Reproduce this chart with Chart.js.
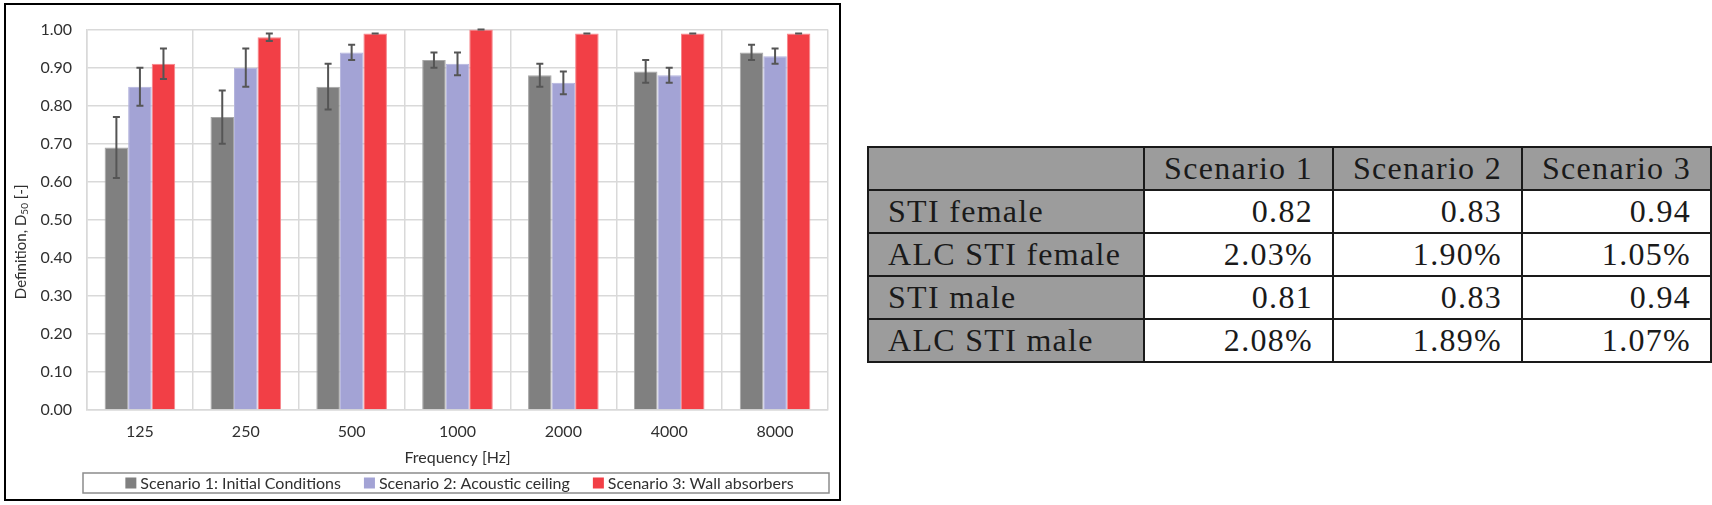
<!DOCTYPE html>
<html>
<head>
<meta charset="utf-8">
<script src="https://cdn.jsdelivr.net/npm/chart.js@4.4.1/dist/chart.umd.min.js"></script>
<style>
  body { margin: 0; background: #fff; width: 1712px; height: 505px; overflow: hidden; }
  #chartBox { position: absolute; left: 4px; top: 3px; width: 833px; height: 494px; border: 2px solid #000; }
  #stiTable { position: absolute; left: 867px; top: 146px; border-collapse: collapse;
    font-family: "Liberation Serif", serif; font-size: 32px; color: #1a1a1a; letter-spacing: 1.3px; }
  #stiTable td, #stiTable th { border: 2px solid #1a1a1a; height: 41px; padding: 0 19px; font-weight: normal; white-space: nowrap; }
  #stiTable th { background: #9c9c9c; text-align: center; }
  #stiTable td { text-align: right; background: #fff; }
  #stiTable td.rowHead { background: #9c9c9c; text-align: left; }
</style>
</head>
<body>
<div id="chartBox"><canvas id="defChart"></canvas></div>
<table id="stiTable"></table>

<script>
// frequency bands
const freqs = ['125', '250', '500', '1000', '2000', '4000', '8000'];

const seriesNames = ['Scenario 1: Initial Conditions', 'Scenario 2: Acoustic ceiling', 'Scenario 3: Wall absorbers'];

// D50 values per scenario
const scenario1 = [0.69, 0.77, 0.85, 0.92, 0.88, 0.89, 0.94];
const scenario2 = [0.85, 0.90, 0.94, 0.91, 0.86, 0.88, 0.93];
const scenario3 = [0.91, 0.98, 0.99, 1.00, 0.99, 0.99, 0.99];

// +/- error for each bar
const scenario1Err = [0.08, 0.07, 0.06, 0.02, 0.03, 0.03, 0.02];
const scenario2Err = [0.05, 0.05, 0.02, 0.03, 0.03, 0.02, 0.02];
const scenario3Err = [0.04, 0.01, 0.00, 0.00, 0.00, 0.00, 0.00];

const yTicks = [0, 0.1, 0.2, 0.3, 0.4, 0.5, 0.6, 0.7, 0.8, 0.9, 1.0];

// table on the right
const tableCols = ['Scenario 1', 'Scenario 2', 'Scenario 3'];
const tableRows = ['STI female', 'ALC STI female', 'STI male', 'ALC STI male'];
const stiFemale = ['0.82', '0.83', '0.94'];
const alcFemale = ['2.03%', '1.90%', '1.05%'];
const stiMale = ['0.81', '0.83', '0.94'];
const alcMale = ['2.08%', '1.89%', '1.07%'];

const colors = ['#808080', '#a3a3d5', '#f23f46'];
const borders = ['#a6a6a6', '#b3b3dd', '#f7868c'];
const errors = [scenario1Err, scenario2Err, scenario3Err];

const FONT = 'Lato';
const TXT = '#303030';

// error bars drawn on top of the bars, using the y scale
const errorBarPlugin = {
  id: 'errorBars',
  afterDatasetsDraw(chart) {
    const ctx = chart.ctx;
    const y = chart.scales.y;
    ctx.save();
    ctx.strokeStyle = '#555555';
    ctx.lineWidth = 2;
    chart.data.datasets.forEach((ds, i) => {
      const meta = chart.getDatasetMeta(i);
      meta.data.forEach((bar, j) => {
        const v = ds.data[j];
        const e = errors[i][j];
        const top = y.getPixelForValue(v + e);
        const bot = y.getPixelForValue(v - e);
        const cap = 3.5;
        ctx.beginPath();
        ctx.moveTo(bar.x, top); ctx.lineTo(bar.x, bot);
        ctx.moveTo(bar.x - cap, top); ctx.lineTo(bar.x + cap, top);
        ctx.moveTo(bar.x - cap, bot); ctx.lineTo(bar.x + cap, bot);
        ctx.stroke();
      });
    });
    ctx.restore();
  }
};

// y title with subscript + boxed legend under the x title
const extrasPlugin = {
  id: 'extras',
  afterDraw(chart) {
    const ctx = chart.ctx;
    const area = chart.chartArea;
    ctx.save();

    // y axis title
    ctx.translate(15.5, (area.top + area.bottom) / 2 + 22);
    ctx.rotate(-Math.PI / 2);
    ctx.fillStyle = TXT;
    ctx.textBaseline = 'middle';
    const big = '15px ' + FONT, small = '10px ' + FONT;
    const parts = [['Definition, D', big, 0], ['50', small, 3], [' [-]', big, 0]];
    let w = 0;
    parts.forEach(p => { ctx.font = p[1]; w += ctx.measureText(p[0]).width; });
    let x = -w / 2;
    parts.forEach(p => {
      ctx.font = p[1];
      ctx.fillText(p[0], x, p[2]);
      x += ctx.measureText(p[0]).width;
    });
    ctx.setTransform(1, 0, 0, 1, 0, 0);

    // legend
    const top = 468, bottom = 488;
    ctx.strokeStyle = '#8c8c8c';
    ctx.lineWidth = 1.5;
    ctx.strokeRect(area.left - 4, top, area.right - area.left + 5, bottom - top);
    ctx.font = '16px ' + FONT;
    const box = 11, gap = 4, spacing = 23;
    const widths = seriesNames.map(n => box + gap + ctx.measureText(n).width);
    const total = widths.reduce((a, b) => a + b, 0) + spacing * (widths.length - 1);
    let lx = (area.left + area.right) / 2 - total / 2 + 2;
    const cy = (top + bottom) / 2;
    ctx.textBaseline = 'middle';
    seriesNames.forEach((n, i) => {
      ctx.fillStyle = colors[i];
      ctx.fillRect(lx, cy - box / 2, box, box);
      ctx.fillStyle = TXT;
      ctx.fillText(n, lx + box + gap, cy + 1);
      lx += widths[i] + spacing;
    });
    ctx.restore();
  }
};

new Chart(document.getElementById('defChart'), {
  type: 'bar',
  data: {
    labels: freqs,
    datasets: [scenario1, scenario2, scenario3].map((d, i) => ({
      label: seriesNames[i],
      data: d,
      backgroundColor: colors[i],
      borderColor: borders[i],
      borderWidth: 1,
      categoryPercentage: 0.667,
      barPercentage: 1.0
    }))
  },
  options: {
    responsive: true,
    maintainAspectRatio: false,
    animation: false,
    layout: { padding: { left: 0, top: 24, right: 11, bottom: 29 } },
    plugins: { legend: { display: false }, tooltip: { enabled: false } },
    scales: {
      x: {
        grid: { color: '#d9d9d9', lineWidth: 1.5, drawTicks: false },
        border: { color: '#d9d9d9', width: 1.5 },
        ticks: { font: { family: FONT, size: 16 }, color: TXT, padding: 12 },
        title: { display: true, text: 'Frequency [Hz]', font: { family: FONT, size: 16 }, color: TXT, padding: { top: 6, bottom: 3 } },
        afterFit(s) { s.height = 60; }
      },
      y: {
        min: 0,
        max: 1,
        afterBuildTicks(s) { s.ticks = yTicks.map(v => ({ value: v })); },
        grid: { color: '#d9d9d9', lineWidth: 1.5, drawTicks: false },
        border: { color: '#d9d9d9', width: 1.5 },
        ticks: { font: { family: FONT, size: 16 }, color: TXT, padding: 15, callback: v => v.toFixed(2) },
        afterFit(s) { s.width = 81; }
      }
    }
  },
  plugins: [errorBarPlugin, extrasPlugin]
});

// build the STI table
const table = document.getElementById('stiTable');
let html = '<tr><th style="width:238px"></th>' + tableCols.map(c => '<th style="width:149px">' + c + '</th>').join('') + '</tr>';
[stiFemale, alcFemale, stiMale, alcMale].forEach((row, i) => {
  html += '<tr><td class="rowHead">' + tableRows[i] + '</td>' + row.map(v => '<td>' + v + '</td>').join('') + '</tr>';
});
table.innerHTML = html;
</script>
</body>
</html>
